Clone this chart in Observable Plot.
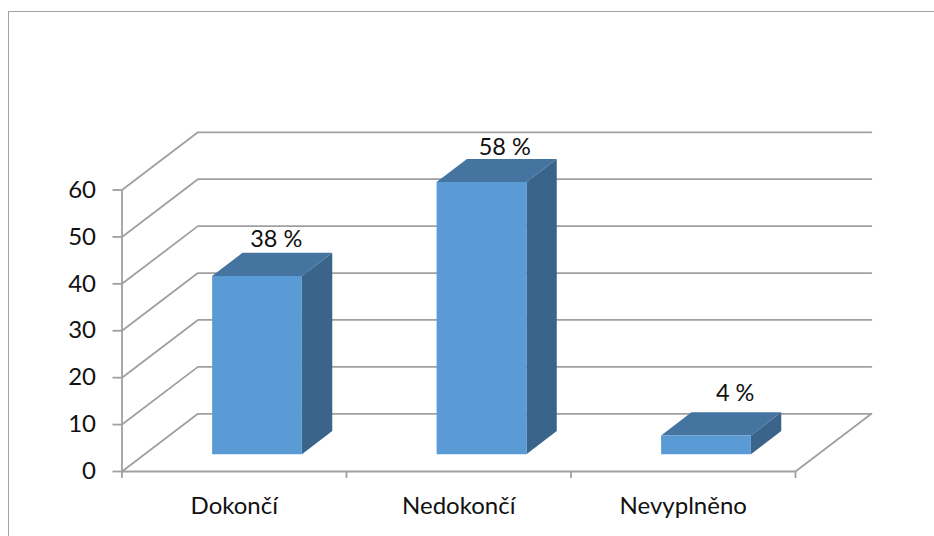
<!DOCTYPE html>
<html><head><meta charset="utf-8">
<script src="https://cdn.jsdelivr.net/npm/d3@7"></script>
<script src="https://cdn.jsdelivr.net/npm/@observablehq/plot@0.6"></script>
<style>
html,body{margin:0;padding:0;background:#fff;overflow:hidden;width:934px;height:536px}
#border{position:absolute;left:8px;top:10.5px;width:2000px;height:2000px;border:1.5px solid #a3a3a3;border-right:none;border-bottom:none}
#chart{position:absolute;left:0;top:0}
</style></head><body>
<div id="border"></div><div id="chart"></div>
<script>
const categories = ["Dokončí", "Nedokončí", "Nevyplněno"];
const values = [38, 58, 4];
const labels = ["38 %", "58 %", "4 %"];
const yTicks = [0, 10, 20, 30, 40, 50, 60];

// Oblique projection: depth 0..1 shifts a point along x (categories) and y (value units).
const DX = 0.338, DY = 12.3;
const px = (c, d) => c + d * DX;
const py = (v, d) => v + d * DY;
const P = (c, v, d, id) => ({x: px(c, d), y: py(v, d), id});
const GAP = 0.3, BW = 0.4, D0 = 0.3, D1 = 0.7;

const frontFaces = [], topFaces = [], sideFaces = [];
values.forEach((v, i) => {
  const a = i + GAP, b = a + BW;
  frontFaces.push(P(a,0,D0,i),P(b,0,D0,i),P(b,v,D0,i),P(a,v,D0,i));
  topFaces.push(P(a,v,D0,i),P(b,v,D0,i),P(b,v,D1,i),P(a,v,D1,i));
  sideFaces.push(P(b,0,D0,i),P(b,0,D1,i),P(b,v,D1,i),P(b,v,D0,i));
});
const n = categories.length;
const wallLines = yTicks.flatMap(t => [P(0,t,0,t),P(0,t,1,t),P(n,t,1,t)]);
const floorEdge = [P(0,0,0,"f"),P(n,0,0,"f"),P(n,0,1,"f")];

const gray = "#a0a0a0", sw = 1.8;
const labelMark = (i, dx, dy) => Plot.text([labels[i]], {
  x: px(i + 0.5, 0.5), y: py(values[i], D1), text: d => d,
  dx, dy, fontSize: 23.5, fill: "#111", lineAnchor: "middle"
});

const chart = Plot.plot({
  width: 934, height: 536,
  marginLeft: 121.5, marginRight: 139, marginTop: 189.5, marginBottom: 65,
  x: {domain: [0, n]},
  y: {domain: [0, 60]},
  style: {fontFamily: "Lato, Carlito, sans-serif", background: "transparent"},
  marks: [
    Plot.line(wallLines, {x:"x", y:"y", z:"id", stroke: gray, strokeWidth: sw}),
    Plot.line(floorEdge, {x:"x", y:"y", z:"id", stroke: gray, strokeWidth: sw}),
    Plot.ruleX([0], {y1: 0, y2: 60, stroke: gray, strokeWidth: sw}),
    Plot.axisY({ticks: yTicks, tickSize: 9, tickPadding: 17, stroke: gray, strokeWidth: sw, fontSize: 24, label: null, fill: "#111"}),
    Plot.axisX({ticks: [0,1,2,3], tickSize: 7, tickFormat: () => "", stroke: gray, strokeWidth: sw, label: null}),
    Plot.axisX({ticks: [0.5,1.5,2.5], tickSize: 0, tickPadding: 25, tickFormat: t => categories[t - 0.5], fontSize: 24, fill: "#111", label: null}),
    Plot.line(sideFaces, {x:"x", y:"y", z:"id", fill: "#3a6489", stroke: "none"}),
    Plot.line(topFaces, {x:"x", y:"y", z:"id", fill: "#44749f", stroke: "none"}),
    Plot.line(frontFaces, {x:"x", y:"y", z:"id", fill: "#5b9bd5", stroke: "none"}),
    labelMark(0, 4, -13),
    labelMark(1, 8, -12),
    labelMark(2, 14, -19)
  ]
});
document.getElementById("chart").appendChild(chart);
</script></body></html>
